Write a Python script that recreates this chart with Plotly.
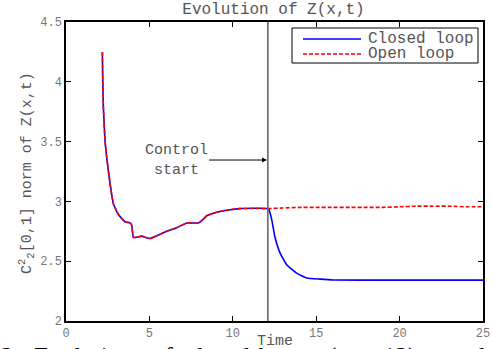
import plotly.graph_objects as go

# ---- data ----
t_common = [2.18, 2.20, 2.24, 2.34, 2.44, 2.64, 2.84, 3.14, 3.54, 3.84, 3.94, 4.04,
            4.24, 4.54, 4.74, 5.04, 5.24, 6.04, 6.64, 7.24, 7.94, 8.14, 8.44,
            9.04, 9.84, 10.4, 12.1]
z_common = [4.25, 4.05, 3.79, 3.51, 3.37, 3.15, 2.98, 2.89, 2.83, 2.82, 2.80, 2.70,
            2.70, 2.71, 2.70, 2.69, 2.70, 2.75, 2.78, 2.82, 2.82, 2.84, 2.88,
            2.91, 2.93, 2.94, 2.94]

t_closed_after = [12.17, 12.33, 12.53, 12.83, 13.23, 13.83, 14.43, 15.23, 16.0,
                  18.0, 20.0, 22.0, 25.0]
z_closed_after = [2.93, 2.85, 2.70, 2.57, 2.47, 2.40, 2.36, 2.35, 2.343,
                  2.342, 2.342, 2.342, 2.342]

t_open_after = [13, 14, 15, 16, 17, 18, 19, 20, 21, 22, 23, 24, 25]
z_open_after = [2.945, 2.95, 2.95, 2.95, 2.95, 2.95, 2.95, 2.955, 2.96, 2.96,
                2.96, 2.955, 2.955]

control_start = 12.1
x_ticks = [0, 5, 10, 15, 20, 25]
y_ticks = [2, 2.5, 3, 3.5, 4, 4.5]
y_tick_labels = ["2", "2.5", "3", "3.5", "4", "4.5"]

t_closed = t_common + t_closed_after
z_closed = z_common + z_closed_after
t_open = t_common + t_open_after
z_open = z_common + z_open_after

# ---- layout geometry ----
W, H = 493, 349
ML, MR, MT, MB = 66, 10, 22, 28
PW, PH = W - ML - MR, H - MT - MB


def px_x(p):
    return (p - ML) / PW


def px_y(p):
    return (H - MB - p) / PH


MONO = "Liberation Mono, Courier New, monospace"
SERIF = "Liberation Serif, Times New Roman, serif"
GRAY_TXT = "#555555"
TICK_TXT = "#777777"

fig = go.Figure()
fig.add_trace(go.Scatter(x=t_closed, y=z_closed, mode="lines", name="Closed loop",
                         line=dict(color="#0000ff", width=1.6, shape="spline",
                                   smoothing=0.4), showlegend=False))
fig.add_trace(go.Scatter(x=t_open, y=z_open, mode="lines", name="Open loop",
                         line=dict(color="#ff0000", width=1.6, dash="4px,2px",
                                   shape="spline", smoothing=0.4),
                         showlegend=False))

# control start vertical line
fig.add_shape(type="line", xref="x", yref="y", x0=control_start, x1=control_start,
              y0=2, y1=4.5, line=dict(color="#6e6e6e", width=1.7), layer="above")

# legend box (manual)
fig.add_shape(type="rect", xref="paper", yref="paper",
              x0=px_x(292), x1=px_x(478), y0=px_y(63), y1=px_y(28),
              line=dict(color="black", width=1), fillcolor="white", layer="above")
fig.add_shape(type="line", xref="paper", yref="paper",
              x0=px_x(303), x1=px_x(361), y0=px_y(39), y1=px_y(39),
              line=dict(color="#0000ff", width=1.6), layer="above")
fig.add_shape(type="line", xref="paper", yref="paper",
              x0=px_x(303), x1=px_x(361), y0=px_y(54), y1=px_y(54),
              line=dict(color="#ff0000", width=1.6, dash="4px,2px"), layer="above")

annotations = [
    dict(text="Closed loop", x=px_x(366), y=px_y(39), xanchor="left", yanchor="middle",
         font=dict(family=MONO, size=16, color=GRAY_TXT)),
    dict(text="Open loop", x=px_x(366), y=px_y(54), xanchor="left", yanchor="middle",
         font=dict(family=MONO, size=16, color=GRAY_TXT)),
    dict(text="Time", x=px_x(274.5), y=px_y(341), xanchor="center", yanchor="middle",
         font=dict(family=MONO, size=15, color=GRAY_TXT)),
    dict(text="C<sup>2</sup><sub>2</sub>[0,1] norm of Z(x,t)", x=px_x(26),
         y=px_y(173), xanchor="center", yanchor="middle", textangle=-90,
         font=dict(family=MONO, size=15, color=GRAY_TXT)),
]
for a in annotations:
    a.update(xref="paper", yref="paper", showarrow=False)

# "Control start" arrow annotation
annotations.append(dict(
    text="Control<br>start", xref="x", yref="y", x=control_start - 0.05, y=3.346,
    axref="x", ayref="y", ax=6.6, ay=3.346, showarrow=True, arrowhead=2,
    arrowsize=1, arrowwidth=1, arrowcolor="black",
    font=dict(family=MONO, size=15, color=GRAY_TXT)))

# partially visible caption below the figure
caption_words = [("2:", -1), ("Evolution", 32), ("of", 150), ("closed", 184),
                 ("loop", 256), ("(t", 326), ("\u2265", 347), ("12)", 381), ("and", 447)]
for word, xp in caption_words:
    annotations.append(dict(text=word, xref="paper", yref="paper", x=px_x(xp),
                            y=px_y(341), xanchor="left", yanchor="top", showarrow=False,
                            font=dict(family=SERIF, size=25, color="black")))

fig.update_layout(
    width=W, height=H,
    margin=dict(l=ML, r=MR, t=MT, b=MB, autoexpand=False),
    paper_bgcolor="white", plot_bgcolor="white",
    title=dict(text="Evolution of Z(x,t)", x=px_x(273.5), xref="paper", xanchor="center",
               y=1 - 8 / H, yref="container", yanchor="middle",
               font=dict(family=MONO, size=16, color=GRAY_TXT)),
    annotations=annotations,
    showlegend=False,
)
fig.update_xaxes(range=[0, 25], tickvals=x_ticks, ticks="inside", ticklen=5,
                 tickcolor="black", showline=True, linecolor="black", linewidth=1.5,
                 mirror="ticks", showgrid=False, zeroline=False,
                 tickfont=dict(family=MONO, size=12, color=TICK_TXT))
fig.update_yaxes(range=[2, 4.5], tickvals=y_ticks, ticktext=y_tick_labels,
                 ticks="inside", ticklen=5,
                 tickcolor="black", showline=True, linecolor="black", linewidth=1.5,
                 mirror="ticks", showgrid=False, zeroline=False,
                 tickfont=dict(family=MONO, size=12, color=TICK_TXT))

fig.write_html("out.html",
               config={"displayModeBar": False},
               post_script="document.body.style.margin='0';"
                           "document.body.style.padding='0';"
                           "document.body.style.overflow='hidden';")
